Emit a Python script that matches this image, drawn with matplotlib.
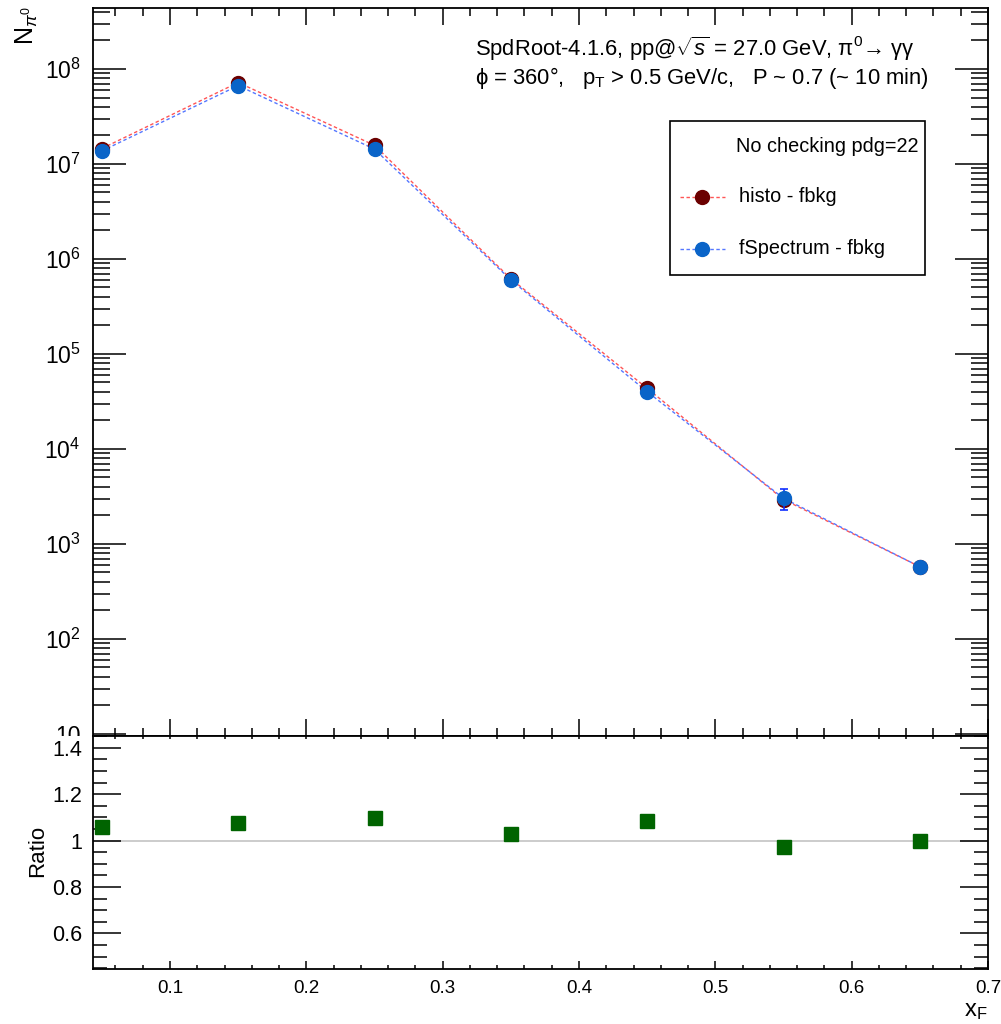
import numpy as np
import matplotlib
matplotlib.use("Agg")
import matplotlib.pyplot as plt
from matplotlib.ticker import FixedLocator, MultipleLocator, FuncFormatter, LogLocator, NullFormatter
from matplotlib.lines import Line2D
from matplotlib.patches import Rectangle

plt.rcParams['font.family'] = ['Liberation Sans', 'DejaVu Sans']
plt.rcParams['mathtext.fontset'] = 'custom'
plt.rcParams['mathtext.rm'] = 'Liberation Sans'
plt.rcParams['mathtext.it'] = 'Liberation Sans:italic'
plt.rcParams['mathtext.bf'] = 'Liberation Sans:bold'

# ---- data ----
xf = [0.05, 0.15, 0.25, 0.35, 0.45, 0.55, 0.65]
spectrum = [1.37e7, 6.67e7, 1.43e7, 6.0e5, 4.0e4, 3.02e3, 5.75e2]      # fSpectrum - fbkg
spectrum_err = [2.0e5, 4.0e5, 2.0e5, 1.5e4, 2.0e3, 7.5e2, 2.5e1]
ratio = [1.06, 1.078, 1.097, 1.029, 1.085, 0.971, 1.0]
histo = [s * r for s, r in zip(spectrum, ratio)]                        # histo - fbkg

title1 = r"SpdRoot-4.1.6, pp@$\sqrt{s}$ = 27.0 GeV, π$^{0}$→ γγ"
title2 = r"ϕ = 360°,   p$_{\mathregular{T}}$ > 0.5 GeV/c,   P ~ 0.7 (~ 10 min)"
legend_title = "No checking pdg=22"
label_histo = "histo - fbkg"
label_spec = "fSpectrum - fbkg"

W, H = 1001, 1024
fig = plt.figure(figsize=(W / 100, H / 100), dpi=100)

def fx(px):
    return px / W

def fy(py):
    return 1 - py / H

L, R = 93, 988
T1, B1 = 7.5, 736
B2 = 969

ax = fig.add_axes([fx(L), fy(B1), fx(R - L), (B1 - T1) / H], zorder=0)
axr = fig.add_axes([fx(L), fy(B2), fx(R - L), (B2 - B1) / H], zorder=2)
# white pad covering lower part (clips top panel's lowest label like ROOT)
fig.patches.append(Rectangle((0, 0), 1, fy(B1), transform=fig.transFigure,
                             facecolor='white', edgecolor='none', zorder=1))

red_line = '#ff5555'
blue_line = '#5577ff'
red_mark = '#6b0000'
blue_mark = '#0a64c8'
green = '#006400'

ax.plot(xf, histo, ls=(0, (2.5, 1.8)), lw=1.0, color=red_line, zorder=2)
ax.plot(xf, spectrum, ls=(0, (2.5, 1.8)), lw=1.0, color=blue_line, zorder=2)
ax.plot(xf, histo, 'o', ms=10, color=red_mark, mec=red_mark, zorder=3)
ax.errorbar(xf, spectrum, yerr=spectrum_err, fmt='o', ms=10, color=blue_mark,
            mec=blue_mark, ecolor='#1030ff', elinewidth=1.2, capsize=3, capthick=1.2, zorder=4)

ax.set_yscale('log')
ax.set_xlim(0.0435, 0.7)
ax.set_ylim(9.5, 4.43e8)
ylo, yhi = ax.get_ylim()

def logfmt(v, pos):
    if v < ylo * 0.999 or v > yhi * 1.001:
        return ''
    e = int(round(np.log10(v)))
    if e == 1:
        return '10'
    return r'$10^{%d}$' % e

ax.yaxis.set_major_locator(FixedLocator([10.0 ** k for k in range(1, 9)]))
ax.yaxis.set_minor_locator(LogLocator(base=10, subs=np.arange(2, 10), numticks=20))
ax.yaxis.set_major_formatter(FuncFormatter(logfmt))
ax.yaxis.set_minor_formatter(NullFormatter())
ax.xaxis.set_major_locator(MultipleLocator(0.1))
ax.xaxis.set_minor_locator(MultipleLocator(0.02))
ax.tick_params(axis='x', which='both', labelbottom=False, top=True, bottom=True, direction='in')
ax.tick_params(axis='x', which='major', length=12.5, width=1.1)
ax.tick_params(axis='x', which='minor', length=6, width=1.1)
ax.tick_params(axis='y', which='both', left=True, right=True, direction='in')
ax.tick_params(axis='y', which='major', length=23.5, width=1.1, labelsize=16.5, pad=9)
ax.tick_params(axis='y', which='minor', length=12, width=1.1)
for s in ax.spines.values():
    s.set_linewidth(1.3)

# y label
fig.text(fx(27), fy(6), r'N$_{\pi^{0}}$', rotation=90, ha='center', va='top', fontsize=18)

# annotations
fig.text(fx(475), fy(56), title1, ha='left', va='baseline', fontsize=15.8)
fig.text(fx(475), fy(84), title2, ha='left', va='baseline', fontsize=15.8)

# legend (ROOT-style box)
def ax_x(px):
    return (px - L) / (R - L)

def ax_y(py):
    return 1 - (py - T1) / (B1 - T1)

ax.add_patch(Rectangle((ax_x(670), ax_y(275)), ax_x(925) - ax_x(670), ax_y(121) - ax_y(275),
                       transform=ax.transAxes, facecolor='white', edgecolor='black', lw=1.2, zorder=5))
ax.text(ax_x(918), ax_y(147), legend_title, transform=ax.transAxes, ha='right', va='center',
        fontsize=14.3, zorder=6)
for py, lc, mc, lab in [(197, red_line, red_mark, label_histo), (249, blue_line, blue_mark, label_spec)]:
    ax.add_line(Line2D([ax_x(680), ax_x(725)], [ax_y(py), ax_y(py)], transform=ax.transAxes,
                       ls=(0, (2.5, 1.8)), lw=1.0, color=lc, zorder=6))
    ax.add_line(Line2D([ax_x(702)], [ax_y(py)], transform=ax.transAxes, marker='o', ms=10,
                       color=mc, mec=mc, ls='none', zorder=7))
    ax.text(ax_x(739), ax_y(py), lab, transform=ax.transAxes, ha='left', va='center',
            fontsize=14.3, zorder=6)

# ratio panel
axr.axhline(1.0, color='#c8c8c8', lw=1.3, zorder=1)
axr.plot(xf, ratio, 's', ms=10.5, color=green, mec=green, zorder=3)
axr.set_xlim(0.0435, 0.7)
axr.set_ylim(0.447, 1.451)
axr.xaxis.set_major_locator(MultipleLocator(0.1))
axr.xaxis.set_minor_locator(MultipleLocator(0.02))
axr.yaxis.set_major_locator(FixedLocator([0.6, 0.8, 1.0, 1.2, 1.4]))
axr.yaxis.set_minor_locator(MultipleLocator(0.05))
axr.yaxis.set_major_formatter(FuncFormatter(lambda v, p: ('%g' % round(v, 2))))
axr.xaxis.set_major_formatter(FuncFormatter(lambda v, p: ('%g' % round(v, 2))))
axr.tick_params(axis='x', which='both', bottom=True, top=False, direction='in')
axr.tick_params(axis='x', which='major', length=5.5, width=1.1, labelsize=13.5, pad=8)
axr.tick_params(axis='x', which='minor', length=2.8, width=1.1)
axr.tick_params(axis='y', which='both', left=True, right=True, direction='in')
axr.tick_params(axis='y', which='major', length=20, width=1.1, labelsize=15.5, pad=8)
axr.tick_params(axis='y', which='minor', length=10, width=1.1)
for s in axr.spines.values():
    s.set_linewidth(1.3)

sec = axr.secondary_xaxis('top')
sec.xaxis.set_major_locator(MultipleLocator(0.1))
sec.xaxis.set_minor_locator(MultipleLocator(0.02))
sec.tick_params(axis='x', which='both', direction='in', length=2.2, width=1.1, labeltop=False)
sec.spines['top'].set_visible(False)

fig.text(fx(38), fy(851), 'Ratio', rotation=90, ha='center', va='center', fontsize=16)
fig.text(fx(987), fy(1011), r'x$_{\mathregular{F}}$', ha='right', va='center', fontsize=17)

fig.savefig('out.png', dpi=100)
